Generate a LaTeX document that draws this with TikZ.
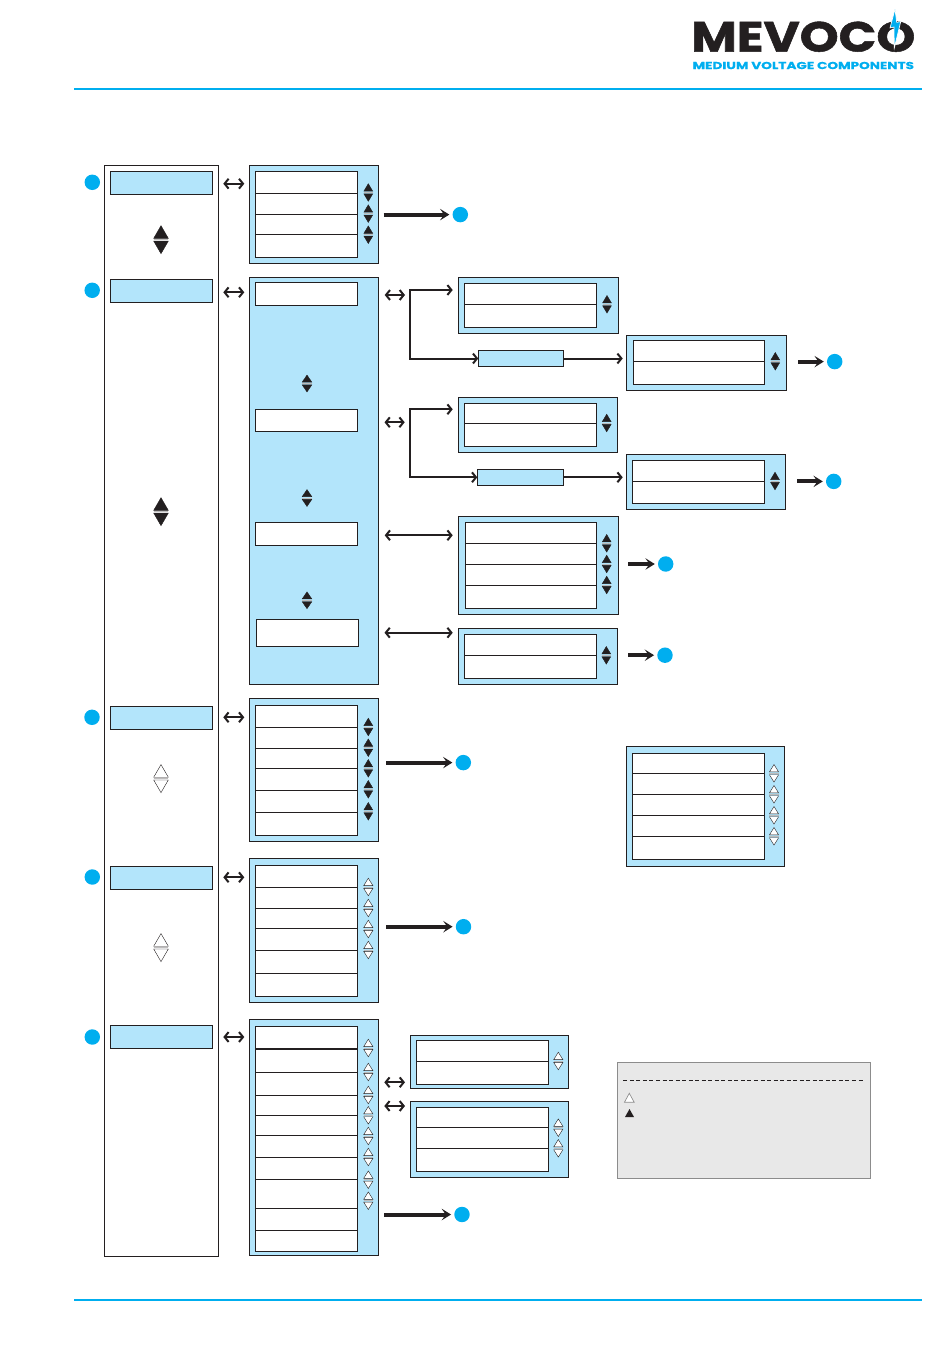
\documentclass[tikz,border=0pt]{standalone}
\usepackage{fontspec}
\usepackage{graphicx}
\usetikzlibrary{arrows.meta}
\newfontfamily\logofont[FakeBold=1.2]{Poppins Bold}
\newfontfamily\logosubfont[FakeBold=0.5]{Poppins Bold}
\definecolor{ink}{HTML}{231F20}
\definecolor{panelblue}{HTML}{B3E5FB}
\definecolor{mevblue}{HTML}{00AEEF}
\definecolor{legendfill}{HTML}{E8E8E8}
\definecolor{legendline}{HTML}{8C8C8C}
\tikzset{
  bx/.style={rectangle,draw=ink,line width=0.8pt,inner sep=0pt,outer sep=0pt},
  plainbox/.style={bx,fill=white},
  bluebox/.style={bx,fill=panelblue},
  cellbox/.style={bx,fill=white},
  legendbox/.style={rectangle,draw=legendline,fill=legendfill,line width=0.75pt,inner sep=0pt,outer sep=0pt},
  marker/.style={circle,fill=mevblue,draw=none,minimum size=11.6pt,inner sep=0pt,outer sep=0pt},
  barb/.tip={Straight Barb[length=3pt,width=7.4pt,line width=1.5pt]},
  dbl/.style={draw=ink,line width=1.25pt,barb-barb},
  flow/.style={draw=ink,line width=1.5pt,-barb},
  heavy/.style={draw=ink,line width=3pt,-{Stealth[length=7pt,width=8.6pt,inset=3pt]}},
  rule/.style={draw=mevblue,line width=1.4pt},
}
% box from corners: style, name, x1, y1, x2, y2
\newcommand{\bxn}[6]{\node[#1,minimum width={(#5-#3)*0.75pt},minimum height={(#6-#4)*0.75pt}] (#2) at ({(#3+#5)/2},{(#4+#6)/2}) {};}
% stacked cells: name, x1, x2, list y/y
\newcommand{\cells}[4]{\foreach \ya/\yb [count=\ci] in {#4} {\bxn{cellbox}{#1-\ci}{#2}{\ya}{#3}{\yb}}}
% up/down triangle pair: fill, x, centre y, half width, height
\newcommand{\pairtri}[5]{%
  \draw[line width=0.3pt,draw=ink,fill=#1,line join=miter] (#2-#4,#3-1.4) -- (#2,#3-1.4-#5) -- (#2+#4,#3-1.4) -- cycle;
  \draw[line width=0.3pt,draw=ink,fill=#1,line join=miter] (#2-#4,#3+1.4) -- (#2,#3+1.4+#5) -- (#2+#4,#3+1.4) -- cycle;
  \draw[line width=0.5pt,draw=ink!30] (#2-#4,#3) -- (#2+#4,#3);}
\newcommand{\blk}[2]{\pairtri{ink}{#1}{#2}{4.4}{7.4}}
\newcommand{\wht}[2]{\pairtri{white}{#1}{#2}{4.6}{7.4}}
\begin{document}
\begin{tikzpicture}[x=0.75pt,y=-0.75pt]
\useasboundingbox (0,0) rectangle (950,1360);
% header and footer
\coordinate (hl) at (74,89); \coordinate (hr) at (922,89);
\coordinate (fl) at (74,1300); \coordinate (fr) at (922,1300);
\draw[rule] (hl) -- (hr);
\draw[rule] (fl) -- (fr);
% logo
\node[inner sep=0pt,text=ink] (logo) at (803.3,36.7) {\resizebox{168pt}{22.5pt}{\logofont MEVOCO}};
\node[inner sep=0pt,text=mevblue] (logosub) at (803.3,65.5) {\resizebox{166pt}{5.4pt}{\logosubfont MEDIUM VOLTAGE COMPONENTS}};
\fill[mevblue,draw=white,line width=0.5pt,line join=miter] (895,9) -- (890,28) -- (894,27) -- (894.3,48) -- (900.7,21.7) -- (896.7,22.3) -- cycle;
% left column
\bxn{plainbox}{left}{104.3}{165.3}{218.3}{1256.3}
\bxn{bluebox}{m1}{110.3}{171.7}{212.7}{194.3}
\bxn{bluebox}{m2}{110.3}{279.3}{212.7}{302.3}
\bxn{bluebox}{m3}{110.3}{706.7}{212.7}{729.3}
\bxn{bluebox}{m4}{110.3}{866.3}{212.7}{889.3}
\bxn{bluebox}{m5}{110.3}{1025.7}{212.7}{1048.3}
\node[marker] (n1) at (92.3,182.3) {};
\node[marker] (n2) at (92.2,290.3) {};
\node[marker] (n3) at (92,717.3) {};
\node[marker] (n4) at (92.3,877) {};
\node[marker] (n5) at (92.3,1037) {};
\pairtri{ink}{161}{239.7}{7.3}{12.6}
\pairtri{ink}{161}{511.7}{7.3}{12.6}
\pairtri{white}{161}{778.6}{7.3}{12.6}
\pairtri{white}{161}{947.6}{7.3}{12.6}
% panel 1
\bxn{bluebox}{p1}{249.3}{165.3}{378.3}{263.3}
\cells{c1}{255.3}{357.3}{171.7/193.3,193.3/214.3,214.3/234.3,234.3/257.3}
\blk{368.3}{192.5}\blk{368.3}{213.6}\blk{368.3}{234.7}
% panel 2
\bxn{bluebox}{p2}{249.3}{277.3}{378.3}{684.3}
\bxn{cellbox}{c2a}{255.3}{282.3}{357.3}{305.3}
\bxn{cellbox}{c2b}{255.3}{409.3}{357.3}{431.3}
\bxn{cellbox}{c2c}{255.3}{522.3}{357.3}{545.3}
\bxn{cellbox}{c2d}{256.3}{619.3}{358.3}{646.3}
\pairtri{ink}{307}{383.5}{4.8}{7}
\pairtri{ink}{307}{498}{4.8}{7}
\pairtri{ink}{307}{600.3}{4.8}{7}
% second level panels
\bxn{bluebox}{q1}{458.7}{277.7}{618.3}{333.3}
\cells{cq1}{464.3}{596.7}{283.3/304.3,304.3/327.3}
\blk{607}{304.3}
\bxn{bluebox}{b1}{478.3}{350.7}{563.3}{366.3}
\bxn{bluebox}{q2}{626.7}{335.3}{786.7}{390.3}
\cells{cq2}{633.3}{764.3}{340.7/361.3,361.3/384.3}
\blk{775.3}{361.3}
\bxn{bluebox}{q3}{458.7}{397.7}{617.3}{452.3}
\cells{cq3}{464.3}{596.7}{403.3/423.3,423.3/446.3}
\blk{606.7}{423}
\bxn{bluebox}{b2}{477.3}{469.3}{563.3}{485.3}
\bxn{bluebox}{q4}{626.7}{454.7}{785.7}{509.7}
\cells{cq4}{632.3}{764.3}{460.3/481.3,481.3/503.6}
\blk{775}{481}
\bxn{bluebox}{q5}{458.7}{516.3}{618.3}{614.3}
\cells{cq5}{465.3}{596.7}{522.3/543.3,543.3/564.3,564.3/585.3,585.3/608.3}
\blk{606.7}{543.3}\blk{606.7}{564}\blk{606.7}{585}
\bxn{bluebox}{q6}{458.7}{628.3}{617.7}{684.3}
\cells{cq6}{464.3}{596.7}{634.3/655.3,655.3/678.3}
\blk{606.3}{655.3}
% panel 3
\bxn{bluebox}{p3}{249.3}{698.3}{378.3}{841.3}
\cells{c3}{255.3}{357.3}{705.3/727.3,727.3/748.3,748.3/768.3,768.3/790.3,790.3/812.3,812.3/835.3}
\blk{368.3}{727}\blk{368.3}{747.7}\blk{368.3}{768.3}\blk{368.3}{789.3}\blk{368.3}{811.3}
% right panel
\bxn{bluebox}{r1}{626.3}{746.3}{784.7}{866.3}
\cells{cr}{632.3}{764.7}{753.3/773.3,773.3/794.3,794.3/815.3,815.3/836.3,836.3/859.3}
\wht{774}{773.3}\wht{774}{794.3}\wht{774}{815.3}\wht{774}{836.3}
% panel 4
\bxn{bluebox}{p4}{249.3}{858.3}{378.3}{1002.6}
\cells{c4}{255.3}{357.3}{865.3/887.3,887.3/908.3,908.3/928.3,928.3/950.3,950.3/973.3,973.3/996.6}
\wht{368.3}{887}\wht{368.3}{908}\wht{368.3}{929}\wht{368.3}{950}
% panel 5
\bxn{bluebox}{p5}{249.3}{1019.7}{378.3}{1255.7}
\cells{c5}{255.3}{357.3}{1026.7/1048.7,1048.7/1072.3,1072.3/1095.3,1095.3/1115.3,1115.3/1135.3,1135.3/1157.3,1157.3/1179.3,1179.3/1208.3,1208.3/1230.3,1230.3/1251.3}
\draw[draw=ink,line width=1.3pt] (c5-1.south west) -- (c5-1.south east);
\wht{368.3}{1048}\wht{368.3}{1072}\wht{368.3}{1095}\wht{368.3}{1115.3}\wht{368.3}{1136}\wht{368.3}{1157}\wht{368.3}{1179.7}\wht{368.3}{1200.7}
\bxn{bluebox}{s1}{410.3}{1035.7}{568.3}{1088.3}
\cells{cs1}{416.3}{548.3}{1040.3/1061.3,1061.3/1084.3}
\wht{558.3}{1061}
\bxn{bluebox}{s2}{410.3}{1101.7}{568.3}{1177.3}
\cells{cs2}{416.3}{548.3}{1107.3/1127.3,1127.3/1148.3,1148.3/1171.3}
\wht{558.3}{1127.7}\wht{558.3}{1148.3}
% legend
\bxn{legendbox}{legend}{617.3}{1062.7}{870.7}{1178.3}
\coordinate (dl) at (623.3,1080.3); \coordinate (dr) at (865,1080.3);
\draw[draw=ink,line width=0.65pt,dash pattern=on 3pt off 1.9pt] (dl) -- (dr);
\draw[draw=legendline,fill=white,line width=0.5pt] (624.4,1102.3) -- (629.3,1093.3) -- (634.2,1102.3) -- cycle;
\fill[ink] (625,1117) -- (629.5,1109) -- (634,1117) -- cycle;
% double arrows between columns
\coordinate (a1l) at (223.3,183.7); \coordinate (a1r) at (244.3,183.7);
\coordinate (a2l) at (223.3,292.3); \coordinate (a2r) at (244.3,292.3);
\coordinate (a3l) at (223.3,717.3); \coordinate (a3r) at (244.3,717.3);
\coordinate (a4l) at (223.3,877.3); \coordinate (a4r) at (244.3,877.3);
\coordinate (a5l) at (223.3,1037); \coordinate (a5r) at (244.3,1037);
\coordinate (a6l) at (384.7,295); \coordinate (a6r) at (405,295);
\coordinate (a7l) at (384.5,422.3); \coordinate (a7r) at (404.7,422.3);
\coordinate (a8l) at (384.7,535.3); \coordinate (a8r) at (452.7,535.3);
\coordinate (a9l) at (384.5,632.7); \coordinate (a9r) at (452.7,632.7);
\coordinate (a10l) at (384.3,1082.3); \coordinate (a10r) at (405,1082.3);
\coordinate (a11l) at (384.3,1106); \coordinate (a11r) at (405,1106);
\foreach \i in {1,...,11} {\draw[dbl] (a\i l) -- (a\i r);}
% elbow connectors
\coordinate (e1t) at (452.7,290); \coordinate (e1c) at (410,290);
\draw[dbl,line width=1.5pt] (e1t) -- (e1c) |- (b1.west);
\coordinate (e2t) at (452.7,409.3); \coordinate (e2c) at (410,409.3);
\draw[dbl,line width=1.5pt] (e2t) -- (e2c) |- (b2.west);
\draw[flow,shorten >=3pt] (b1.east) -- (b1.east -| q2.west);
\draw[flow,shorten >=3pt] (b2.east) -- (b2.east -| q4.west);
% heavy arrows to markers
\node[marker] (d1) at (460.3,214.6) {};
\coordinate (t1) at (383.7,214.6);
\node[marker] (d2) at (834.7,361.6) {};
\coordinate (t2) at (798,361.6);
\node[marker] (d3) at (833.7,481.4) {};
\coordinate (t3) at (797,481.4);
\node[marker] (d4) at (665.7,564) {};
\coordinate (t4) at (628.3,564);
\node[marker] (d5) at (665,655.2) {};
\coordinate (t5) at (628,655.2);
\node[marker] (d6) at (463.3,762.6) {};
\coordinate (t6) at (386,762.6);
\node[marker] (d7) at (463.5,926.7) {};
\coordinate (t7) at (386,926.7);
\node[marker] (d8) at (462,1214.5) {};
\coordinate (t8) at (384.3,1214.5);
\foreach \i in {1,...,8} {\draw[heavy,shorten >=2.4pt] (t\i) -- (d\i);}
\end{tikzpicture}
\end{document}
